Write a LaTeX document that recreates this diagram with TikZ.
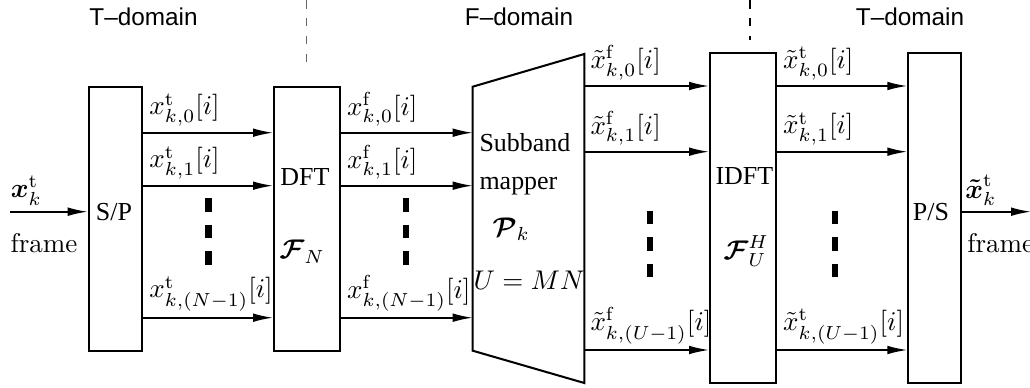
\documentclass[tikz,border=0pt]{standalone}
\usepackage{amsmath}
\usepackage{fontspec}
\usepackage{tikz}
\usetikzlibrary{arrows.meta,positioning,calc}
\newfontfamily\tmsfont{Liberation Serif}
\newfontfamily\helvfont{Liberation Sans}
\tikzset{
  blk/.style     = {draw, line width=0.75pt, inner sep=0pt, minimum width=24.4pt, minimum height=97.7pt},
  sig/.style     = {-{Latex[length=7.4pt, width=3.2pt]}, line width=0.6pt},
  lbl/.style     = {inner sep=2pt},
  txt/.style     = {inner sep=0pt, font=\tmsfont\fontsize{9.6pt}{11pt}\selectfont},
  mth/.style     = {inner sep=0pt, anchor=base west},
  dom/.style     = {inner sep=0pt, anchor=base, font=\helvfont\fontsize{9pt}{11pt}\selectfont},
  vdots/.style   = {line width=2.5pt, dash pattern=on 4.9pt off 4.9pt},
  sepline/.style = {line width=0.4pt, dash pattern=on 3.2pt off 3.4pt},
}

\begin{document}
\begin{tikzpicture}[x=0.37pt,y=-0.37pt]
  \useasboundingbox (0,0) rectangle (1030,388);
  % domain headings and separators
  \node[dom] (tdomin) at (143.5,26) {T–domain};
  \node[dom] (fdom) at (519,26) {F–domain};
  \node[dom] (tdomout) at (910,26) {T–domain};
  \draw[sepline, black!60] (306.7,0) -- (306.7,62.3);
  \draw[sepline] (750,0) -- (750,40);
  % blocks
  \node[blk, minimum width=19.8pt] (sp) at (115.5,218.7) {};
  \node[blk] (dft) at (307,218.7) {};
  \node[blk, minimum height=122.1pt] (idft) at (743,218.3) {};
  \node[blk, minimum width=19.4pt, minimum height=122.1pt] (ps) at (934.5,218.3) {};
  % subband mapper (trapezoid)
  \coordinate (mnw) at (472.7,86.7);
  \coordinate (mne) at (584.3,54);
  \coordinate (mse) at (584.3,383);
  \coordinate (msw) at (472.7,350.7);
  \draw[line width=0.75pt, line join=miter] (mnw) -- (mne) -- (mse) -- (msw) -- cycle;
  % block texts
  \node[txt, anchor=base] (sptxt) at (114,221) {S/P};
  \node[txt, anchor=base] (dfttxt) at (305,186) {DFT};
  \node[mth] (fn) at (279,259) {$\boldsymbol{\mathcal{F}}_N$};
  \node[txt, anchor=base west] (subtxt) at (479,151.7) {Subband};
  \node[txt, anchor=base west] (maptxt) at (479,190) {mapper};
  \node[mth] (pk) at (492,236.7) {$\boldsymbol{\mathcal{P}}_k$};
  \node[mth] (umn) at (473,290) {$U=MN$};
  \node[txt, anchor=base west] (idfttxt) at (715,185) {IDFT};
  \node[mth] (fuh) at (723,260) {$\boldsymbol{\mathcal{F}}_U^H$};
  \node[txt, anchor=base] (pstxt) at (931,221) {P/S};
  % signal rows
  \coordinate (in) at (10,211.7);
  \coordinate (out) at (1031,211.7);
  \coordinate (a0) at (0,132.7);
  \coordinate (a1) at (0,185.7);
  \coordinate (a2) at (0,317.7);
  \coordinate (b0) at (0,86);
  \coordinate (b1) at (0,151.7);
  \coordinate (b2) at (0,350);
  % input frame
  \draw[sig] (in) node[lbl, anchor=south west, inner xsep=0pt] (xin) {$\boldsymbol{x}_k^{\mathrm{t}}$} -- (sp.west |- in);
  \node[mth] (frin) at (10,253) {frame};
  % S/P -> DFT
  \draw[sig] (sp.east |- a0) node[lbl, above right] (xt0) {$x^{\mathrm{t}}_{k,0}[i]$} -- (dft.west |- a0);
  \draw[sig] (sp.east |- a1) node[lbl, above right] (xt1) {$x^{\mathrm{t}}_{k,1}[i]$} -- (dft.west |- a1);
  \draw[sig] (sp.east |- a2) node[lbl, above right] (xt2) {$x^{\mathrm{t}}_{k,(N-1)}[i]$} -- (dft.west |- a2);
  % DFT -> mapper
  \draw[sig] (dft.east |- a0) node[lbl, above right] (xf0) {$x^{\mathrm{f}}_{k,0}[i]$} -- (mnw |- a0);
  \draw[sig] (dft.east |- a1) node[lbl, above right] (xf1) {$x^{\mathrm{f}}_{k,1}[i]$} -- (mnw |- a1);
  \draw[sig] (dft.east |- a2) node[lbl, above right] (xf2) {$x^{\mathrm{f}}_{k,(N-1)}[i]$} -- (mnw |- a2);
  % mapper -> IDFT
  \draw[sig] (mne |- b0) node[lbl, above right] (yf0) {$\tilde{x}^{\mathrm{f}}_{k,0}[i]$} -- (idft.west |- b0);
  \draw[sig] (mne |- b1) node[lbl, above right] (yf1) {$\tilde{x}^{\mathrm{f}}_{k,1}[i]$} -- (idft.west |- b1);
  \draw[sig] (mne |- b2) node[lbl, above right] (yf2) {$\tilde{x}^{\mathrm{f}}_{k,(U-1)}[i]$} -- (idft.west |- b2);
  % IDFT -> P/S
  \draw[sig] (idft.east |- b0) node[lbl, above right] (yt0) {$\tilde{x}^{\mathrm{t}}_{k,0}[i]$} -- (ps.west |- b0);
  \draw[sig] (idft.east |- b1) node[lbl, above right] (yt1) {$\tilde{x}^{\mathrm{t}}_{k,1}[i]$} -- (ps.west |- b1);
  \draw[sig] (idft.east |- b2) node[lbl, above right] (yt2) {$\tilde{x}^{\mathrm{t}}_{k,(U-1)}[i]$} -- (ps.west |- b2);
  % output frame
  \draw[sig] (ps.east |- out) node[lbl, anchor=south west, inner xsep=1pt] (xout) {$\boldsymbol{\tilde{x}}_k^{\mathrm{t}}$} -- (out);
  \node[mth] (frout) at (966.7,253) {frame};
  % vertical dots
  \draw[vdots] (208.3,198.3) -- (208.3,265);
  \draw[vdots] (406,198.3) -- (406,265);
  \draw[vdots] (650,211) -- (650,277.7);
  \draw[vdots] (835,211) -- (835,277.7);
\end{tikzpicture}
\end{document}
